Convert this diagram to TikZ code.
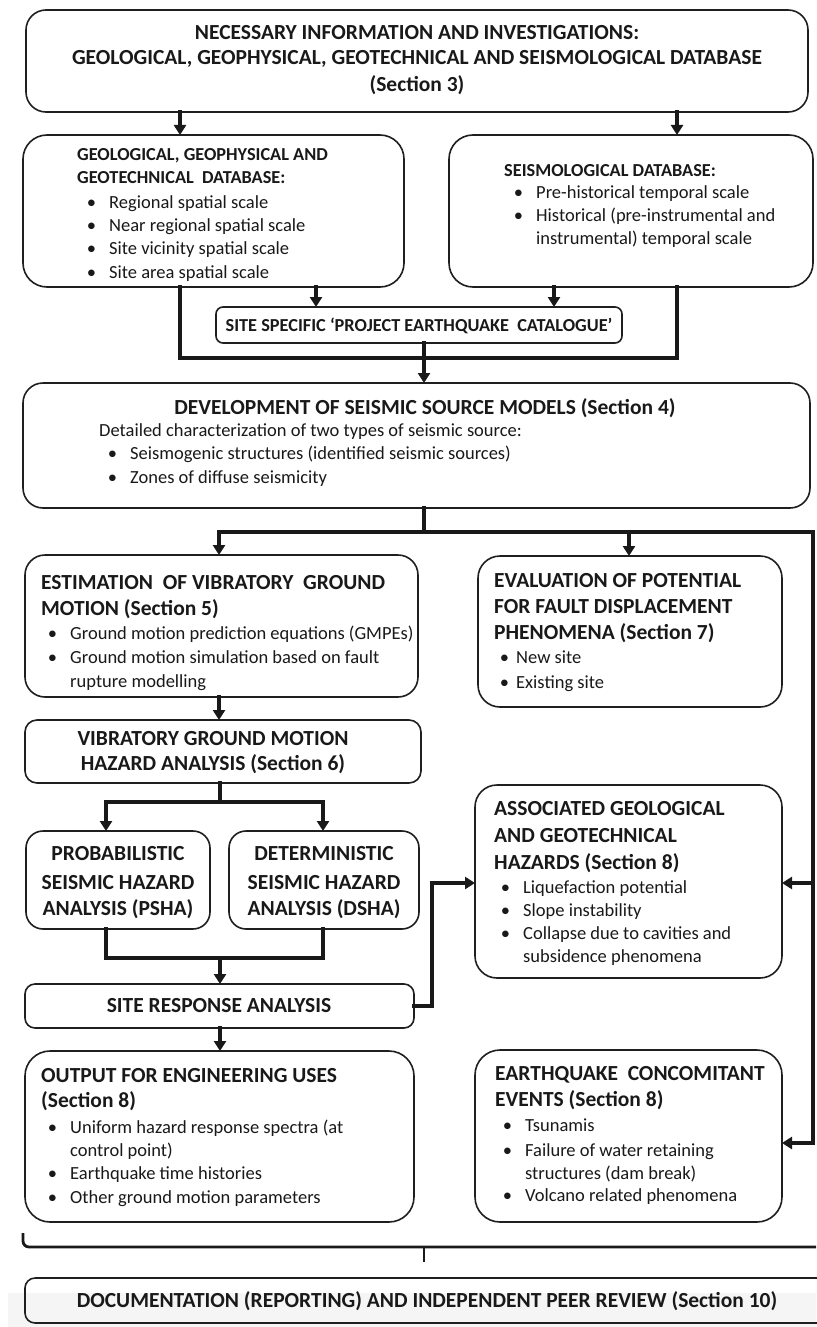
\documentclass[tikz,border=0pt]{standalone}
\usepackage{fontspec}
\setmainfont{Carlito}
\usetikzlibrary{arrows.meta,fit}
\newcommand\mybul{\llap{•\hspace{13pt}}}
\newcommand\mybulb{\llap{•\hspace{7pt}}}
\begin{document}
\begin{tikzpicture}[x=1pt,y=-1pt,
  box/.style={draw=black!88, line width=1.6pt, rounded corners=#1, inner sep=0pt, outer sep=0pt},
  box/.default=20pt,
  conn/.style={draw=black!90, line width=3.6pt, line cap=rect},
  arr/.style={conn, -{Triangle[length=10pt,width=12pt]}},
  brk/.style={draw=black!90, line width=2.8pt},
  ttl/.style={font=\fontsize{21.5}{26}\selectfont\bfseries, inner sep=0pt, text=black!90},
  sttl/.style={font=\fontsize{18.3}{22}\selectfont\bfseries, inner sep=0pt, text=black!90},
  bod/.style={font=\fontsize{18.5}{22}\selectfont, inner sep=0pt, anchor=base west, text=black!90},
]
\useasboundingbox (0,0) rectangle (816,1327);
\fill[white] (0,0) rectangle (816,1327);
\fill[gray!8] (8,1293) rectangle (816,1327);

% boxes
\node[box=20pt, fit={(26,10) (808,112)}] (top) {};
\node[box=24pt, fit={(23,135) (404,287)}] (geo) {};
\node[box=24pt, fit={(449,135) (813,287)}] (seis) {};
\node[box=7pt, fit={(216,307) (622,343)}] (cat) {};
\node[box=20pt, fit={(23,383) (810,508)}] (dev) {};
\node[box=20pt, fit={(25,555) (418,697)}] (est) {};
\node[box=22pt, fit={(478,556) (782,707)}] (eval) {};
\node[box=12pt, fit={(25,720) (421,783)}] (vib) {};
\node[box=17pt, fit={(26,831) (210,929)}] (psha) {};
\node[box=17pt, fit={(229,831) (419,929)}] (dsha) {};
\node[box=22pt, fit={(475,785) (782,978)}] (assoc) {};
\node[box=10pt, fit={(25,984) (414,1028)}] (site) {};
\node[box=25pt, fit={(25,1051) (414,1222)}] (out) {};
\node[box=25pt, fit={(475,1050) (782,1222)}] (conc) {};
\node[box=10pt, fit={(25,1278) (840,1323)}] (doc) {};

% texts
\node[ttl, anchor=base] (t1) at (417,40) {NECESSARY INFORMATION AND INVESTIGATIONS:};
\node[ttl, anchor=base] (t2) at (417,65) {GEOLOGICAL, GEOPHYSICAL, GEOTECHNICAL AND SEISMOLOGICAL DATABASE};
\node[ttl, anchor=base] (t3) at (417,92) {(Section 3)};

\node[sttl, anchor=base west] (g0) at (77,160) {GEOLOGICAL, GEOPHYSICAL AND};
\node[sttl, anchor=base west] (g0b) at (77,183) {GEOTECHNICAL\ \ DATABASE:};
\node[bod] (g1) at (109,208) {\mybul Regional spatial scale};
\node[bod] (g2) at (109,231) {\mybul Near regional spatial scale};
\node[bod] (g3) at (109,254) {\mybul Site vicinity spatial scale};
\node[bod] (g4) at (109,278) {\mybul Site area spatial scale};

\node[sttl, anchor=base west] (s0) at (504,176) {SEISMOLOGICAL DATABASE:};
\node[bod] (s1) at (536,198) {\mybul Pre-historical temporal scale};
\node[bod] (s2) at (536,221) {\mybul Historical (pre-instrumental and};
\node[bod] (s3) at (536,244) {instrumental) temporal scale};

\node[sttl, anchor=base] (c0) at (419,331) {SITE SPECIFIC ‘PROJECT EARTHQUAKE\ \ CATALOGUE’};

\node[ttl, anchor=base] (d0) at (425,414) {DEVELOPMENT OF SEISMIC SOURCE MODELS (Section 4)};
\node[bod] (d1) at (99,436) {Detailed characterization of two types of seismic source:};
\node[bod] (d2) at (130,459) {\mybul Seismogenic structures (identified seismic sources)};
\node[bod] (d3) at (130,483) {\mybul Zones of diffuse seismicity};

\node[ttl, anchor=base west] (e0) at (41,589) {ESTIMATION\ \ OF VIBRATORY\ \ GROUND};
\node[ttl, anchor=base west] (e0b) at (41,615) {MOTION (Section 5)};
\node[bod] (e1) at (70,639) {\mybul Ground motion prediction equations (GMPEs)};
\node[bod] (e2) at (70,663) {\mybul Ground motion simulation based on\ fault};
\node[bod] (e3) at (70,687) {rupture modelling};

\node[ttl, anchor=base west] (v0) at (494,587) {EVALUATION OF POTENTIAL};
\node[ttl, anchor=base west] (v0b) at (494,613) {FOR FAULT DISPLACEMENT};
\node[ttl, anchor=base west] (v0c) at (494,639) {PHENOMENA (Section 7)};
\node[bod] (v1) at (516,663) {\mybulb New site};
\node[bod] (v2) at (516,688) {\mybulb Existing site};

\node[ttl, anchor=base] (h0) at (213,745) {VIBRATORY GROUND MOTION};
\node[ttl, anchor=base] (h0b) at (213,770) {HAZARD ANALYSIS (Section 6)};

\node[ttl, anchor=base] (p0) at (118,860) {PROBABILISTIC};
\node[ttl, anchor=base] (p0b) at (118,889) {SEISMIC HAZARD};
\node[ttl, anchor=base] (p0c) at (118,915) {ANALYSIS (PSHA)};
\node[ttl, anchor=base] (q0) at (324,860) {DETERMINISTIC};
\node[ttl, anchor=base] (q0b) at (324,889) {SEISMIC HAZARD};
\node[ttl, anchor=base] (q0c) at (324,915) {ANALYSIS (DSHA)};

\node[ttl, anchor=base west] (a0) at (494,815) {ASSOCIATED GEOLOGICAL};
\node[ttl, anchor=base west] (a0b) at (494,842) {AND GEOTECHNICAL};
\node[ttl, anchor=base west] (a0c) at (494,869) {HAZARDS (Section 8)};
\node[bod] (a1) at (523,893) {\mybul Liquefaction potential};
\node[bod] (a2) at (523,916) {\mybul Slope instability};
\node[bod] (a3) at (523,939) {\mybul Collapse due to cavities and};
\node[bod] (a4) at (523,962) {subsidence phenomena};

\node[ttl, anchor=base] (r0) at (219,1012) {SITE RESPONSE ANALYSIS};

\node[ttl, anchor=base west] (o0) at (41,1082) {OUTPUT FOR ENGINEERING USES};
\node[ttl, anchor=base west] (o0b) at (41,1107) {(Section 8)};
\node[bod] (o1) at (70,1133) {\mybul Uniform hazard response spectra (at};
\node[bod] (o2) at (70,1156) {control point)};
\node[bod] (o3) at (70,1179) {\mybul Earthquake time histories};
\node[bod] (o4) at (70,1203) {\mybul Other ground motion parameters};

\node[ttl, anchor=base west] (k0) at (495,1080) {EARTHQUAKE\ \ CONCOMITANT};
\node[ttl, anchor=base west] (k0b) at (495,1106) {EVENTS (Section 8)};
\node[bod] (k1) at (525,1131) {\mybul Tsunamis};
\node[bod] (k2) at (525,1156) {\mybul Failure of water retaining};
\node[bod] (k3) at (525,1179) {structures (dam break)};
\node[bod] (k4) at (525,1201) {\mybul Volcano related phenomena};

\node[ttl, anchor=base] (doctxt) at (427,1307) {DOCUMENTATION (REPORTING) AND INDEPENDENT PEER REVIEW (Section 10)};

% helper coordinates
\coordinate (xa) at (180,0);
\coordinate (xb) at (677,0);
\coordinate (xc) at (316,0);
\coordinate (xd) at (554,0);
\coordinate (xe) at (424,0);
\coordinate (xf) at (219,0);
\coordinate (xg) at (629,0);
\coordinate (xr) at (813,0);
\coordinate (xh) at (106,0);
\coordinate (xi) at (323,0);
\coordinate (xj) at (432,0);
\coordinate (xk) at (220,0);
\coordinate (ya) at (0,358);
\coordinate (yb) at (0,532);
\coordinate (yc) at (0,802);
\coordinate (yd) at (0,958);
\coordinate (yf) at (0,1143);
\coordinate (yg) at (0,883);
\coordinate (ye) at (0,1247);
\coordinate (ys) at (0,1262);
\coordinate (bl) at (23,1233);
\coordinate (br) at (816,1247);

% connectors
\draw[arr] (top.south -| xa) -- (geo.north -| xa);
\draw[arr] (top.south -| xb) -- (seis.north -| xb);
\draw[arr] (geo.south -| xc) -- (cat.north -| xc);
\draw[arr] (seis.south -| xd) -- (cat.north -| xd);
\draw[conn] (geo.south -| xa) -- (xa |- ya) -- (xb |- ya) -- (seis.south -| xb);
\draw[arr] (cat.south -| xe) -- (dev.north -| xe);
\draw[conn] (dev.south -| xe) -- (xe |- yb);
\draw[arr] (xe |- yb) -- (xf |- yb) -- (est.north -| xf);
\draw[arr] (xg |- yb) -- (eval.north -| xg);
\draw[arr] (xe |- yb) -- (xr |- yb) -- (xr |- yf) -- (conc.east |- yf);
\draw[arr] (xr |- yg) -- (assoc.east |- yg);
\draw[arr] (est.south -| xf) -- (vib.north -| xf);
\draw[conn] (vib.south -| xk) -- (xk |- yc);
\draw[arr] (xk |- yc) -- (xh |- yc) -- (psha.north -| xh);
\draw[arr] (xk |- yc) -- (xi |- yc) -- (dsha.north -| xi);
\draw[conn] (psha.south -| xh) -- (xh |- yd) -- (xi |- yd) -- (dsha.south -| xi);
\draw[arr] (xk |- yd) -- (site.north -| xk);
\draw[arr] (site.east) -- (xj |- site.east) -- (xj |- yg) -- (assoc.west |- yg);
\draw[arr] (site.south -| xk) -- (out.north -| xk);
\draw[brk, rounded corners=6pt] (bl) |- (br);
\draw[brk] (xe |- ye) -- (xe |- ys);
\end{tikzpicture}
\end{document}
